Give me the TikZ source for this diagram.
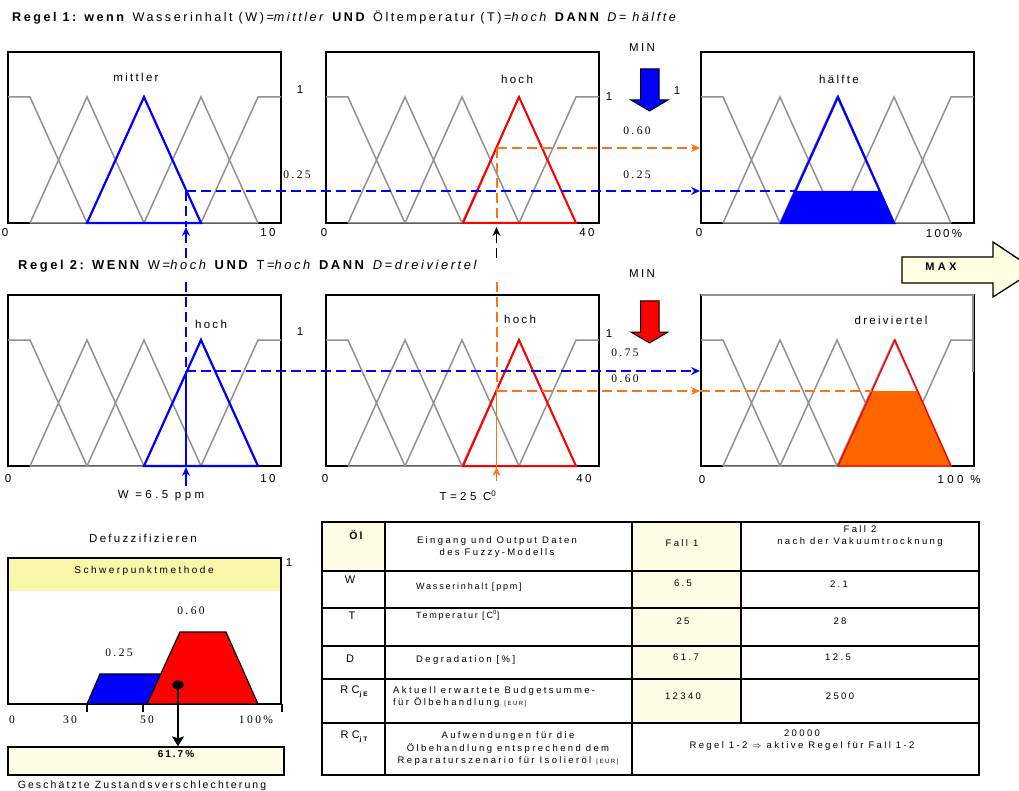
\documentclass[tikz,border=0pt]{standalone}
\usepackage{fontspec}
\setmainfont{Liberation Sans}
\newfontfamily\lsA[LetterSpace=20]{Liberation Sans}
\newfontfamily\lsB[LetterSpace=25]{Liberation Sans}
\newfontfamily\lsC[LetterSpace=30]{Liberation Sans}
\newfontfamily\numfont[LetterSpace=21]{Liberation Serif}
\usetikzlibrary{arrows.meta}
\definecolor{mfgray}{RGB}{145,145,145}
\definecolor{fzblue}{RGB}{0,0,255}
\definecolor{fzred}{RGB}{255,0,0}
\definecolor{fzorange}{RGB}{255,102,0}
\definecolor{dashorange}{RGB}{255,115,20}
\definecolor{bandyellow}{RGB}{250,246,170}
\definecolor{ivorycell}{RGB}{255,253,230}
\definecolor{maxfill}{RGB}{255,255,225}
\begin{document}
\begin{tikzpicture}[x=1pt,y=-1pt,
  frame/.style={draw=black,line width=1.4pt},
  mf/.style={draw=mfgray,line width=1.5pt},
  hiblue/.style={draw=fzblue,line width=2.2pt,line join=miter},
  hired/.style={draw=fzred,line width=2pt,line join=miter},
  bdash/.style={draw=fzblue,line width=2pt,dash pattern=on 10pt off 5pt},
  odash/.style={draw=dashorange,line width=2pt,dash pattern=on 10pt off 5pt},
  kdash/.style={draw=black,line width=1.5pt,dash pattern=on 10pt off 5pt},
  tipb/.style={-{Stealth[length=9pt,width=8pt,inset=3pt]}},
  lbl/.style={font=\lsA\fontsize{11.5}{13}\selectfont,inner sep=0pt},
  wlbl/.style={font=\lsC\fontsize{11.5}{13}\selectfont,inner sep=0pt},
  num/.style={font=\numfont\fontsize{11.5}{13}\selectfont,inner sep=0pt},
  tbl/.style={font=\lsB\fontsize{9.5}{12.5}\selectfont,inner sep=0pt,align=center},
  tbll/.style={font=\lsB\fontsize{9.5}{12.5}\selectfont,inner sep=0pt,align=left,anchor=west},
  tblk/.style={font=\lsC\fontsize{11}{12}\selectfont,inner sep=0pt},
  rule/.style={font=\lsA\fontsize{12.6}{14}\selectfont,inner sep=0pt,anchor=west}]
\useasboundingbox (0,0) rectangle (1019,791);

% ---------- rule titles ----------
\node[rule] (r1) at (12,18) {\textbf{Regel 1: wenn} Wasserinhalt (W)=\textit{mittler} \textbf{UND} Öltemperatur (T)=\textit{hoch} \textbf{DANN} \textit{D}= \textit{hälfte}};
\node[rule,font=\lsA\fontsize{12.9}{14}\selectfont] (r2) at (18,266) {\textbf{Regel 2: WENN} W=\textit{hoch} \textbf{UND} T=\textit{hoch} \textbf{DANN} \textit{D=dreiviertel}};

% ---------- membership panels ----------
\foreach \px/\py in {8/223,326/223,701/223,8/466,326/466,701/466}{
  \begin{scope}[shift={(\px,\py)}]
    \draw[frame] (0,0) rectangle (273,-171);
    \draw[mf] (0,-126)--(22,-126)--(79,0) (22,0)--(79,-126)--(136,0)
      (79,0)--(136,-126)--(193,0) (136,0)--(193,-126)--(250,0)
      (193,0)--(250,-126)--(273,-126) (22,0)--(250,0);
  \end{scope}}
\draw[mfgray,line width=1.7pt] (701,295)--(973,295)--(973,372);

% highlighted sets
\draw[hiblue] (87,223)--(144,97)--(201,223)--cycle;
\draw[hired] (463,223)--(519,97)--(576,223)--cycle;
\fill[fzblue] (781,223)--(795,191)--(880,191)--(894,223)--cycle;
\draw[hiblue] (781,223)--(838,97)--(894,223)--cycle;
\draw[hiblue] (144,466)--(201,340)--(258,466)--cycle;
\draw[hired] (463,466)--(519,340)--(576,466)--cycle;
\fill[fzorange] (838,466)--(872,391)--(917,391)--(951,466)--cycle;
\draw[hired,line width=1.4pt] (838,466)--(895,340)--(951,466)--cycle;

% set labels
\node[lbl] (l1) at (136,77) {mittler};
\node[lbl] (l2) at (517,79) {hoch};
\node[lbl] (l3) at (839,79) {hälfte};
\node[lbl] (l4) at (211,324) {hoch};
\node[lbl] (l5) at (520,319) {hoch};
\node[lbl] (l6) at (891,320) {dreiviertel};

% unit labels
\node[lbl] (o1) at (300,90) {1};
\node[lbl] (o2) at (609,97) {1};
\node[lbl] (o3) at (677,91) {1};
\node[lbl] (o4) at (300,332) {1};
\node[lbl] (o5) at (609,334) {1};

% axis labels
\node[lbl] (x1a) at (5,233) {0};
\node[lbl] (x1b) at (268,233) {10};
\node[lbl] (x2a) at (324,233) {0};
\node[lbl] (x2b) at (587,233) {40};
\node[lbl] (x3a) at (699,233) {0};
\node[lbl] (x3b) at (944,234) {100\%};
\node[lbl] (x4a) at (8,479) {0};
\node[lbl] (x4b) at (268,479) {10};
\node[lbl] (x5a) at (325,479) {0};
\node[lbl] (x5b) at (584,479) {40};
\node[lbl] (x6a) at (702,480) {0};
\node[wlbl] (x6b) at (959,480) {100 \%};

% degree numbers
\node[num] (n1) at (297,175) {0.25};
\node[num] (n2) at (637,131) {0.60};
\node[num] (n3) at (637,175) {0.25};
\node[num] (n4) at (625,353) {0.75};
\node[num] (n5) at (625,379) {0.60};

% inputs
\node[wlbl] (win) at (161,496) {W =6.5 ppm};
\node[wlbl] (tin) at (468,496) {T=25 C\textsuperscript{0}};

% coordinates of the guide lines
\coordinate (wA) at (186,191);
\coordinate (wB) at (186,227);
\coordinate (wC) at (186,258);
\coordinate (wD) at (186,282);
\coordinate (wE) at (186,371);
\coordinate (wF) at (186,467);
\coordinate (wG) at (186,486);
\coordinate (tA) at (496.5,148);
\coordinate (tA2) at (496.5,223);
\coordinate (tB) at (496.5,227);
\coordinate (tC) at (496.5,258);
\coordinate (tD) at (496.5,282);
\coordinate (tE) at (496.5,391);
\coordinate (tF) at (496.5,467);
\coordinate (tG) at (496.5,481);
\coordinate (h1) at (700,191);
\coordinate (h1e) at (795,191);
\coordinate (h2) at (700,148);
\coordinate (h3) at (700,371);
\coordinate (h4) at (700,391);
\coordinate (h4e) at (872,391);

% vertical guides
\draw[bdash] (wA)--(wB);
\draw[bdash,tipb] (wC)--(wB);
\draw[bdash] (wD)--(wE);
\draw[fzblue,line width=1.6pt] (wE)--(wF);
\draw[fzblue,line width=1.6pt,tipb] (wG)--(wF);
\draw[odash] (tA)--(tA2);
\draw[kdash,tipb] (tC)--(tB);
\draw[odash] (tD)--(tE);
\draw[dashorange,line width=1.6pt] (tE)--(tF);
\draw[dashorange,line width=1.6pt,tipb] (tG)--(tF);

% horizontal guides
\draw[bdash,tipb] (wA)--(h1);
\draw[bdash] (h1)--(h1e);
\draw[odash,tipb] (tA)--(h2);
\draw[bdash,tipb] (wE)--(h3);
\draw[odash,tipb] (tE)--(h4);
\draw[odash] (h4)--(h4e);

% MIN arrows
\node[lbl] (min1) at (642,48) {MIN};
\node[lbl] (min2) at (642,274) {MIN};
\draw[black,line width=1pt,fill=fzblue] (640.5,69)--(659,69)--(659,100)--(668,100)--(649.5,111)--(631,100)--(640.5,100)--cycle;
\draw[black,line width=1pt,fill=fzred] (640.5,301)--(659,301)--(659,332)--(668,332)--(649.5,343)--(631,332)--(640.5,332)--cycle;

% MAX arrow
\draw[black,line width=1.3pt,fill=maxfill] (902,257)--(993,257)--(993,242)--(1035,270)--(993,297)--(993,283)--(902,283)--cycle;
\node[wlbl,font=\lsC\fontsize{11}{12}\selectfont\bfseries] (max) at (941,267) {MAX};

% ---------- defuzzification ----------
\node[lbl] (dtitle) at (143,538) {Defuzzifizieren};
\fill[bandyellow] (8,558) rectangle (281,591);
\draw[frame] (8,558) rectangle (281,704);
\node[inner sep=0pt,font=\lsB\fontsize{10}{12}\selectfont] (spm) at (144,571) {Schwerpunktmethode};
\node[lbl] (d1) at (289,563) {1};
\draw[black,line width=1.2pt] (87,704)--(87,712) (143,704)--(143,712) (282,704)--(282,712);
\draw[black,line width=1.2pt,fill=fzblue] (87,704)--(100,674)--(160,674)--(160,704)--cycle;
\draw[black,line width=1.2pt,fill=fzred] (147,704)--(180,632)--(226,632)--(258,704)--cycle;
\node[num] (d025) at (119,653) {0.25};
\node[num] (d060) at (191,611) {0.60};
\node[num] (dx0) at (12,720) {0};
\node[num] (dx30) at (70,720) {30};
\node[num] (dx50) at (147,720) {50};
\node[num] (dx100) at (256,720) {100\%};
\node[draw=black,line width=1.3pt,fill=ivorycell,minimum width=276pt,minimum height=28pt,inner sep=0pt] (res) at (146,761) {};
\node[inner sep=0pt,font=\lsA\fontsize{10}{12}\selectfont\bfseries] (resv) at (176,754) {61.7\%};
\fill[black] (178,685) ellipse [x radius=6, y radius=4.5];
\coordinate (cog) at (178,685);
\draw[black,line width=1.4pt,-{Stealth[length=10pt,width=12pt,inset=2pt]}] (cog)--(res.north -| cog);
\node[inner sep=0pt,font=\lsA\fontsize{10.5}{12}\selectfont] (gz) at (142,786) {Geschätzte Zustandsverschlechterung};

% ---------- table ----------
\fill[ivorycell] (322,522) rectangle (385,571);
\fill[ivorycell] (632,522) rectangle (741,723);
\draw[black,line width=1.4pt] (322,522) rectangle (979,775);
\draw[black,line width=1.4pt] (322,571)--(979,571) (322,608)--(979,608) (322,646)--(979,646)
  (322,679)--(979,679) (322,723)--(979,723)
  (385,522)--(385,775) (632,522)--(632,775) (741,522)--(741,723);

\node[tblk,font=\lsA\fontsize{10.5}{12}\selectfont\bfseries] (c00) at (356,535) {Öl};
\node[tbl] (c01) at (497,547) {Eingang und Output Daten\\des Fuzzy-Modells};
\node[tbl] (c02) at (682,543) {Fall 1};
\node[tbl] (c03) at (860,536) {Fall 2\\nach der Vakuumtrocknung};

\node[tblk] (c10) at (350,580) {W};
\node[tbll,font=\lsA\fontsize{9}{12}\selectfont] (c11) at (416,587) {Wasserinhalt [ppm]};
\node[tbl] (c12) at (683,583) {6.5};
\node[tbl] (c13) at (839,584) {2.1};

\node[tblk] (c20) at (352,616) {T};
\node[tbll,font=\lsA\fontsize{9}{12}\selectfont] (c21) at (416,615) {Temperatur [C\textsuperscript{0}]};
\node[tbl] (c22) at (683,621) {25};
\node[tbl] (c23) at (840,621) {28};

\node[tblk] (c30) at (350,659) {D};
\node[tbll] (c31) at (416,660) {Degradation [\%]};
\node[tbl] (c32) at (686,657) {61.7};
\node[tbl] (c33) at (838,657) {12.5};

\node[tblk] (c40) at (354,692) {RC\raisebox{-2.5pt}{\fontsize{6.5}{7}\selectfont\bfseries jE}};
\node[tbll] (c41) at (393,697) {Aktuell erwartete Budgetsumme-\\für Ölbehandlung {\fontsize{6}{7}\selectfont [EUR]}};
\node[tbl] (c42) at (683,696) {12340};
\node[tbl] (c43) at (840,696) {2500};

\node[tblk] (c50) at (354,737) {RC\raisebox{-2.5pt}{\fontsize{6.5}{7}\selectfont\bfseries jT}};
\node[tbl] (c51) at (508,749) {Aufwendungen für die\\Ölbehandlung entsprechend dem\\Reparaturszenario für Isolieröl {\fontsize{6}{7}\selectfont [EUR]}};
\node[tbl] (c52) at (802,740) {20000\\Regel 1-2 $\Rightarrow$ aktive Regel für Fall 1-2};
\end{tikzpicture}
\end{document}
